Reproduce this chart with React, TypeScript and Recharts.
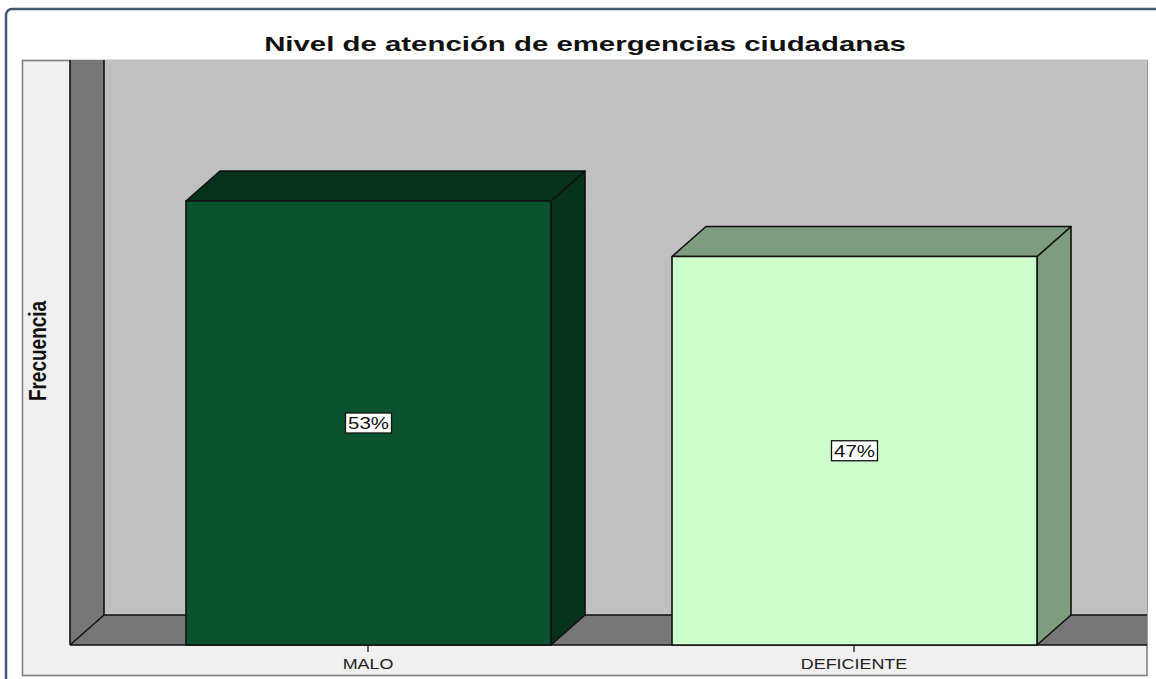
import React from 'react';
import { BarChart, Bar, XAxis, YAxis, LabelList } from 'recharts';

const categories = ['MALO', 'DEFICIENTE'];
const frequencies = [8, 7];
const percentLabels = ['53%', '47%'];
const frontColors = ['#0A532E', '#CCFFCC'];
const sideColors = ['#06321C', '#7E9D7E'];
const yDomain = [0, 10];

const titleText = 'Nivel de atención de emergencias ciudadanas';
const yLabelText = 'Frecuencia';

const data = categories.map((c, i) => ({
  name: c,
  value: frequencies[i],
  pct: percentLabels[i],
  front: frontColors[i],
  side: sideColors[i],
}));

const W = 1156;
const H = 679;
const DX = 34;
const DY = 30;
const PL = 70;
const PR = 1147;
const PT = 90;
const PB = 645;
const FONT = '"Liberation Sans", Arial, sans-serif';
const SX = 1.28;

const Bar3D = (props: any) => {
  const { x, y, width, height, payload } = props;
  const fr = payload.front;
  const sd = payload.side;
  const x2 = x + width;
  const yb = y + height;
  return (
    <g stroke="#111" strokeWidth={1.6} strokeLinejoin="round">
      <polygon
        points={`${x2},${y} ${x2 + DX},${y - DY} ${x2 + DX},${yb - DY} ${x2},${yb}`}
        fill={sd}
      />
      <polygon
        points={`${x},${y} ${x + DX},${y - DY} ${x2 + DX},${y - DY} ${x2},${y}`}
        fill={sd}
      />
      <rect x={x} y={y} width={width} height={height} fill={fr} />
    </g>
  );
};

const PctLabel = (props: any) => {
  const { x, y, width, height, value } = props;
  const cx = x + width / 2;
  const cy = y + height / 2;
  const bw = 46;
  const bh = 20;
  return (
    <g>
      <rect x={cx - bw / 2} y={cy - bh / 2} width={bw} height={bh} fill="#fff" stroke="#111" strokeWidth={1.3} />
      <text
        transform={`translate(${cx},${cy + 6}) scale(${SX},1)`}
        textAnchor="middle"
        fontFamily={FONT}
        fontSize={16}
        fill="#111"
      >
        {value}
      </text>
    </g>
  );
};

const CatTick = (props: any) => {
  const { x, payload } = props;
  return (
    <text
      transform={`translate(${x},${669}) scale(${SX},1)`}
      textAnchor="middle"
      fontFamily={FONT}
      fontSize={14}
      fill="#222"
    >
      {payload.value}
    </text>
  );
};

const YLabel = () => {
  const cx = 38;
  const cy = 351;
  return (
    <text
      transform={`translate(${cx},${cy}) scale(1.3,1) rotate(-90)`}
      textAnchor="middle"
      dominantBaseline="central"
      fontFamily={FONT}
      fontWeight="bold"
      fontSize={19}
      fill="#111"
    >
      {yLabelText}
    </text>
  );
};

const Background = () => (
  <svg width={W} height={H} style={{ position: 'absolute', left: 0, top: 0 }}>
    <rect x={0} y={0} width={W} height={H} fill="#fff" />
    <rect x={6} y={9} width={W + 20} height={H + 20} rx={6} fill="#fff" stroke="#465870" strokeWidth={2.5} />
    <rect x={22.5} y={60.5} width={1124.5} height={615} fill="#F0F0F0" stroke="#7a7a7a" strokeWidth={1.5} />
    <rect x={PL + DX} y={PT - DY} width={PR - PL - DX} height={PB - PT} fill="#C0C0C0" />
    <polygon
      points={`${PL},${PT - DY} ${PL + DX},${PT - DY} ${PL + DX},${PB - DY} ${PL},${PB}`}
      fill="#777777"
    />
    <polygon
      points={`${PL},${PB} ${PL + DX},${PB - DY} ${PR},${PB - DY} ${PR},${PB}`}
      fill="#777777"
    />
    <g stroke="#111" strokeWidth={1.6} fill="none">
      <line x1={PL} y1={PT - DY} x2={PL} y2={PB} />
      <line x1={PL + DX} y1={PT - DY} x2={PL + DX} y2={PB - DY} />
      <line x1={PL + DX} y1={PB - DY} x2={PR} y2={PB - DY} />
      <line x1={PL} y1={PB} x2={PL + DX} y2={PB - DY} />
      <line x1={PL} y1={PB} x2={PR} y2={PB} />
    </g>
    <text
      transform={`translate(585,51) scale(1.4,1)`}
      textAnchor="middle"
      fontFamily={FONT}
      fontWeight="bold"
      fontSize={21}
      fill="#111"
    >
      {titleText}
    </text>
  </svg>
);

export default function App() {
  return (
    <div style={{ position: 'absolute', left: 0, top: 0, width: W, height: H, overflow: 'hidden' }}>
      <Background />
      <div style={{ position: 'absolute', left: 0, top: 0 }}>
        <BarChart width={W} height={H} data={data} margin={{ top: PT, right: W - PR, bottom: H - PB - 30, left: 22 }}>
          <YAxis
            width={48}
            domain={yDomain}
            tick={false}
            axisLine={false}
            tickLine={false}
            label={{ content: YLabel }}
          />
          <XAxis
            dataKey="name"
            height={30}
            padding={{ left: 55, right: 50 }}
            axisLine={false}
            tickLine={{ stroke: '#111', strokeWidth: 1.3 }}
            tickSize={7}
            tick={CatTick}
          />
          <Bar dataKey="value" barSize={365} isAnimationActive={false} shape={Bar3D}>
            <LabelList dataKey="pct" content={PctLabel} />
          </Bar>
        </BarChart>
      </div>
    </div>
  );
}
